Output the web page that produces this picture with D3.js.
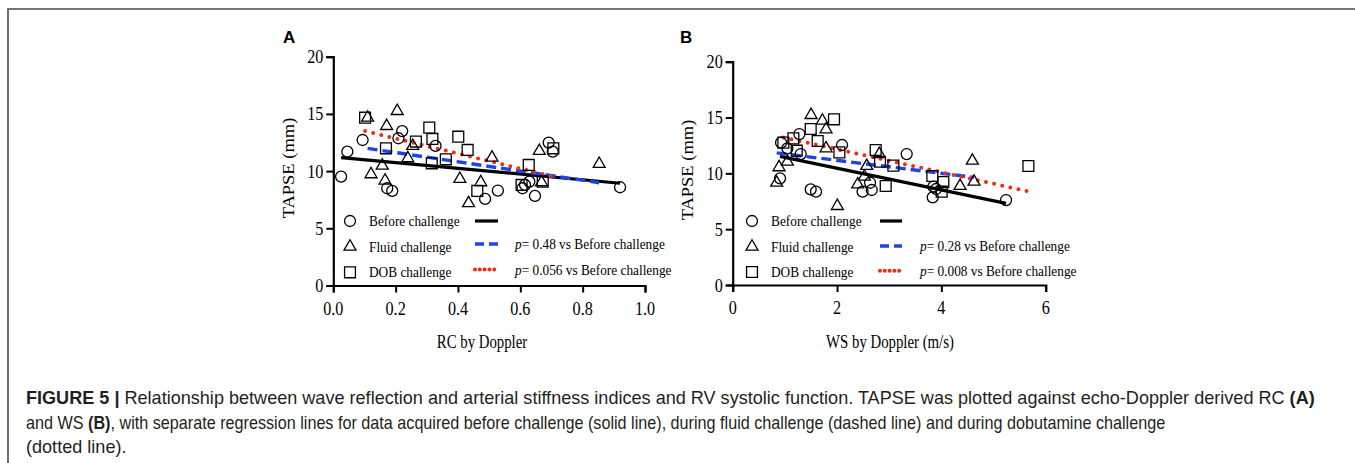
<!DOCTYPE html>
<html><head><meta charset="utf-8">
<script src="https://cdn.jsdelivr.net/npm/d3@7"></script>
<style>body{margin:0;background:#fff;} svg{display:block}</style>
</head><body><svg id="c" width="1355" height="463"></svg>
<script>
// ---------- DATA ----------
const seriesNames = ["Before challenge", "Fluid challenge", "DOB challenge"];
const pValuesA = [null, "0.48", "0.056"];
const pValuesB = [null, "0.28", "0.008"];
const yTicks = [0, 5, 10, 15, 20];
const xTicksA = [0, 0.2, 0.4, 0.6, 0.8, 1.0];
const xTicksB = [0, 2, 4, 6];

// Panel A: RC by Doppler vs TAPSE
const rcBefore = [[0.025,9.52],[0.045,11.7],[0.094,12.72],[0.173,8.5],[0.189,8.27],[0.209,12.87],[0.221,13.5],[0.328,12.2],[0.487,7.57],[0.528,8.3],[0.607,8.5],[0.615,8.8],[0.629,9.08],[0.647,7.83],[0.691,12.49],[0.704,11.7],[0.92,8.59]];
const rcFluid = [[0.110,14.67],[0.121,9.72],[0.157,10.48],[0.166,9.17],[0.171,13.94],[0.205,15.25],[0.239,11.12],[0.255,12.2],[0.406,9.32],[0.434,7.19],[0.473,9.02],[0.509,11.18],[0.661,11.76],[0.668,9.02],[0.853,10.63]];
const rcDob = [[0.102,14.67],[0.169,11.99],[0.265,12.58],[0.308,13.8],[0.318,12.81],[0.316,10.68],[0.361,11.03],[0.401,13.01],[0.431,11.85],[0.462,8.27],[0.604,8.79],[0.627,10.54],[0.672,9.08],[0.706,11.99]];
// regression lines [intercept, slope]
const rcFits = [[11.24,-2.5],[12.43,-4.04],[14.17,-6.59]];

// Panel B: WS by Doppler vs TAPSE
const wsBefore = [[0.907,9.55],[0.927,12.75],[1.048,12.24],[1.278,13.52],[1.304,11.73],[1.495,8.57],[1.597,8.36],[2.096,12.54],[2.49,8.36],[2.633,9.16],[2.665,8.51],[3.335,11.73],[3.834,7.85],[3.847,8.81],[3.9,8.6],[5.24,7.61]];
const wsFluid = [[0.843,9.16],[0.888,10.54],[1.048,11.04],[1.502,15.22],[1.719,14.72],[1.789,13.94],[1.789,12.24],[2.006,7.07],[2.396,9.01],[2.524,9.7],[2.569,10.66],[2.81,11.73],[4.358,8.87],[4.594,11.13],[4.626,9.25]];
const wsDob = [[0.971,12.75],[1.163,13.13],[1.227,12.03],[1.495,13.97],[1.629,12.9],[1.942,14.84],[2.045,11.88],[2.741,12.09],[2.824,11.04],[2.933,8.87],[3.08,10.69],[3.827,9.76],[4.006,8.36],[4.038,9.22],[5.668,10.66]];
const wsFits = [[12.40,-0.971],[12.32,-0.579],[14.22,-1.03]];

// ---------- DRAW ----------
const svg = d3.select("#c");
const SERIF = "'Liberation Serif','Times New Roman',serif";
const SANS = "'Liberation Sans',Arial,sans-serif";

// frame
svg.append("path").attr("d","M8,463 L8,9 L1355,9").attr("fill","none").attr("stroke","#4a4a4a").attr("stroke-width",1.6);

function sText(g, x, y, str, size, sx, anchor, family, weight){
  return g.append("text").attr("transform",`translate(${x},${y}) scale(${sx},1)`)
    .attr("font-family",family||SERIF).attr("font-size",size).attr("font-weight",weight||"normal")
    .attr("text-anchor",anchor||"start").attr("fill","#000").text(str);
}

const lineStyles = [
  {color:"#000", width:3.2, dash:null, cap:"butt", ldash:null},
  {color:"#1a45ea", width:3.4, dash:"10,5", cap:"butt", ldash:"9,5"},
  {color:"#f42a12", width:4, dash:"0,8.3", cap:"round", ldash:"0,4.8"}
];
const symTypes = [d3.symbolCircle, d3.symbolTriangle, d3.symbolSquare];
const symSizes = [95, 62, 118];

function marker(g, i, x, y){
  g.append("path").attr("d", d3.symbol(symTypes[i], symSizes[i])())
   .attr("transform",`translate(${x},${y})`).attr("fill","none").attr("stroke","#000").attr("stroke-width",1.3);
}

function panel(cfg){
  const g = svg.append("g");
  const x = d3.scaleLinear().domain(cfg.xDomain).range([cfg.left, cfg.right]);
  const y = d3.scaleLinear().domain([0,20]).range([cfg.bottom, cfg.top]);
  // regression lines
  cfg.fits.forEach((f,i)=>{
    const ext = d3.extent(cfg.series[i], d=>d[0]);
    const pts = ext.map(v=>[v, f[0]+f[1]*v]);
    const st = lineStyles[i];
    g.append("path").attr("d", d3.line().x(d=>x(d[0])).y(d=>y(d[1]))(pts))
      .attr("fill","none").attr("stroke",st.color).attr("stroke-width",st.width)
      .attr("stroke-dasharray",st.dash).attr("stroke-linecap",st.cap);
  });
  // points
  cfg.series.forEach((s,i)=>{
    s.forEach(d=>marker(g,i,x(d[0]),y(d[1])));
  });
  // axes
  const yAx = g.append("g").attr("transform",`translate(${cfg.left},0)`)
    .call(d3.axisLeft(y).tickValues(yTicks).tickSize(7).tickFormat(d3.format("d")));
  const xAx = g.append("g").attr("transform",`translate(0,${cfg.bottom})`)
    .call(d3.axisBottom(x).tickValues(cfg.xTicks).tickSize(7).tickFormat(cfg.xFmt));
  [yAx,xAx].forEach(a=>{
    a.select(".domain").attr("stroke","#000").attr("stroke-width",2.2);
    a.selectAll(".tick line").attr("stroke","#000").attr("stroke-width",2);
    a.selectAll(".tick text").remove();
  });
  // tick labels (condensed serif)
  yTicks.forEach(t=>sText(g, cfg.left-10, y(t)+6.5, d3.format("d")(t), 19, 0.85, "end"));
  cfg.xTicks.forEach(t=>sText(g, x(t), cfg.bottom+29, cfg.xFmt(t), 19, 0.85, "middle"));
  // axis titles
  g.append("text").attr("transform",`translate(${cfg.yTitleX},${cfg.yTitleY}) rotate(-90) scale(1,0.85)`)
    .attr("font-family",SERIF).attr("font-size",18.5).attr("text-anchor","middle").attr("dominant-baseline","central").text("TAPSE (mm)");
  sText(g, cfg.xTitleX, cfg.xTitleY, cfg.xTitle, 18.5, 0.8, "middle");
  // panel letter
  sText(g, cfg.letterX, 43, cfg.letter, 17, 1, "start", SANS, "bold");
  // legend
  const L = cfg.legend;
  seriesNames.forEach((name,i)=>{
    const ry = L.rows[i];
    marker(g, i, L.mx, ry);
    sText(g, L.tx, ry+5, name, 15.5, 0.86, "start");
    const st = lineStyles[i];
    g.append("path").attr("d", `M${L.l0},${L.lrows[i]}H${L.l1}`)
      .attr("fill","none").attr("stroke",st.color).attr("stroke-width",st.width)
      .attr("stroke-dasharray",st.ldash).attr("stroke-linecap",st.cap);
    if (cfg.pvals[i]) {
      const t = g.append("text").attr("transform",`translate(${L.px},${L.lrows[i]+5}) scale(0.86,1)`)
        .attr("font-family",SERIF).attr("font-size",15.5).attr("fill","#000");
      t.append("tspan").attr("font-style","italic").text("p");
      t.append("tspan").text(`= ${cfg.pvals[i]} vs Before challenge`);
    }
  });
}

panel({
  xDomain:[0,1], left:333.3, right:645, top:56.7, bottom:285.5,
  xTicks:xTicksA, xFmt:d3.format(".1f"),
  series:[rcBefore, rcFluid, rcDob], fits:rcFits, pvals:pValuesA,
  yTitleX:289, yTitleY:168, xTitle:"RC by Doppler", xTitleX:482, xTitleY:348,
  letter:"A", letterX:283,
  legend:{mx:350, tx:369, rows:[221,246.7,272.3], lrows:[221,244,269.5], l0:475, l1:498, px:515}
});
panel({
  xDomain:[0,6], left:732.7, right:1045.7, top:61.7, bottom:285,
  xTicks:xTicksB, xFmt:d3.format("d"),
  series:[wsBefore, wsFluid, wsDob], fits:wsFits, pvals:pValuesB,
  yTitleX:688, yTitleY:170, xTitle:"WS by Doppler (m/s)", xTitleX:890, xTitleY:348,
  letter:"B", letterX:680,
  legend:{mx:752, tx:771, rows:[221,246.7,272], lrows:[221,246,270.7], l0:880, l1:902, px:920}
});

// caption
const capLines = [
  [["FIGURE 5 |", true], [" Relationship between wave reflection and arterial stiffness indices and RV systolic function. TAPSE was plotted against echo-Doppler derived RC ", false], ["(A)", true]],
  [["and WS ", false], ["(B)", true], [", with separate regression lines for data acquired before challenge (solid line), during fluid challenge (dashed line) and during dobutamine challenge", false]],
  [["(dotted line).", false]]
];
const capY = [404, 429, 453];
const capNodes = capLines.map((parts,i)=>{
  const t = svg.append("text").attr("font-family",SANS).attr("font-size",17.5).attr("fill","#231f20")
    .attr("transform",`translate(26,${capY[i]})`);
  parts.forEach(p=>t.append("tspan").attr("font-weight",p[1]?"bold":"normal").text(p[0]));
  return t;
});
const s1 = 1290 / capNodes[0].node().getComputedTextLength();
const s2 = 1140 / capNodes[1].node().getComputedTextLength();
const capScales = [s1, s2, s1];
capNodes.forEach((t,i)=>t.attr("transform",`translate(26,${capY[i]}) scale(${capScales[i]},1)`));
</script>
</body></html>
